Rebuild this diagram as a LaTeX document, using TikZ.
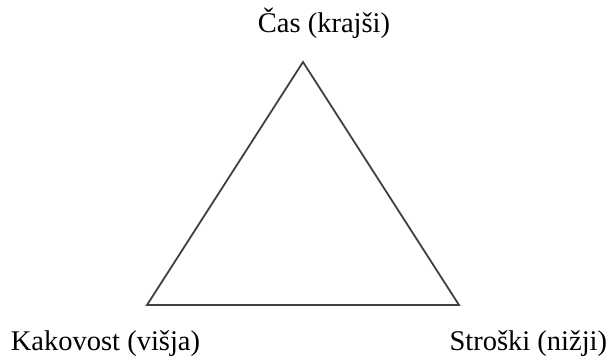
\documentclass[tikz,border=0pt]{standalone}
\usepackage{fontspec}
\setmainfont{Liberation Serif}
\usetikzlibrary{positioning}

\begin{document}
\begin{tikzpicture}[x=1pt, y=1pt, line width=1.8pt]

% Canvas
\useasboundingbox (0,0) rectangle (611,362);

% Triangle corners
\coordinate (top) at (303,300);
\coordinate (left) at (147,57);
\coordinate (right) at (459,57);

\draw[black!75, line join=miter] (top) -- (left) -- (right) -- cycle;

% Labels
\tikzset{lbl/.style={font=\fontsize{28.5}{32}\selectfont, inner sep=0pt}}
\node[lbl, anchor=base] (cas) at (324,329) {Čas (krajši)};
\node[lbl, anchor=base west] (kakovost) at (10,12) {Kakovost (višja)};
\node[lbl, anchor=base east] (stroski) at (608,12) {Stroški (nižji)};

\end{tikzpicture}
\end{document}
